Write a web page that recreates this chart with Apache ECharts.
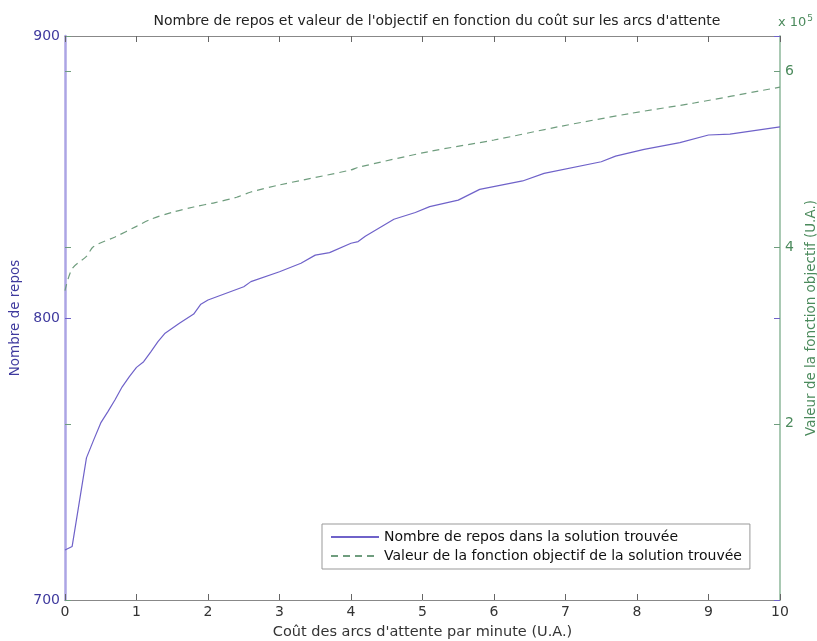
<!DOCTYPE html>
<html><head><meta charset="utf-8">
<script src="https://cdn.jsdelivr.net/npm/echarts@6/dist/echarts.min.js"></script>
<style>html,body{margin:0;padding:0;background:#fff;overflow:hidden}#c{width:817px;height:641px}</style>
</head><body><div id="c"></div>
<script>
var titleText = "Nombre de repos et valeur de l'objectif en fonction du coût sur les arcs d'attente";
var xName = "Coût des arcs d'attente par minute (U.A.)";
var yLeftName = "Nombre de repos";
var yRightName = "Valeur de la fonction objectif (U.A.)";
var legendRepos = "Nombre de repos dans la solution trouvée";
var legendObj = "Valeur de la fonction objectif de la solution trouvée";

var reposX = [0, 0.1, 0.3, 0.4, 0.5, 0.6, 0.7, 0.8, 0.9, 1.0, 1.1, 1.2, 1.3, 1.4, 1.6, 1.8, 1.9, 2.0, 2.5, 2.6, 3.0, 3.3, 3.5, 3.7, 4.0, 4.1, 4.2, 4.6, 4.9, 5.1, 5.5, 5.8, 6.4, 6.7, 7.5, 7.7, 8.1, 8.6, 9.0, 9.3, 10];
var reposY = [717.7, 719, 750.4, 756.7, 762.8, 766.8, 771, 775.6, 779.2, 782.5, 784.5, 788, 791.6, 794.6, 798.1, 801.4, 804.9, 806.4, 811.1, 812.9, 816.4, 819.4, 822.3, 823.2, 826.5, 827.1, 829, 835, 837.4, 839.5, 841.8, 845.6, 848.6, 851.3, 855.4, 857.4, 859.8, 862.2, 864.9, 865.2, 867.8];

var objX = [0, 0.1, 0.3, 0.4, 0.7, 1.0, 1.2, 1.5, 1.8, 2.1, 2.4, 2.6, 3.0, 4.0, 4.1, 5.1, 6.0, 6.9, 7.9, 8.8, 10];
var objY = [351000, 376000, 390000, 401000, 412000, 424000, 432000, 440000, 446000, 451000, 457000, 463000, 471000, 488000, 491000, 509000, 522000, 537000, 552000, 564000, 582000];

function pairs(xs, ys){ return xs.map(function(x,i){ return [x, ys[i]]; }); }

var purple = '#6f62c9', purpleLab = '#3f3a9e', purpleSpine = '#aca5e4';
var green = '#6f9d7e', greenLab = '#4b8a5c', greenSpine = '#a9c9b3';
var font = 'DejaVu Sans, Liberation Sans, Arial, sans-serif';

var chart = echarts.init(document.getElementById('c'));
chart.setOption({
  animation: false,
  backgroundColor: '#fff',
  title: { text: titleText, left: 432, top: 9, textAlign: 'center',
    textStyle: { fontFamily: font, fontSize: 14, fontWeight: 'normal', color: '#222' } },
  graphic: [{ type: 'text', left: 778, top: 14,
    style: { text: '{a|x 10}{b|5}', rich: { a: { fontFamily: font, fontSize: 13, fill: greenLab }, b: { fontFamily: font, fontSize: 9, fill: greenLab, verticalAlign: 'top', padding: [0,0,8,1] } } } }],
  grid: { left: 65, right: 37, top: 36, bottom: 41, outerBoundsMode: 'none', containLabel: false },
  legend: {
    left: 322, top: 524, orient: 'vertical', itemWidth: 48, itemHeight: 10, itemGap: 5,
    padding: [6, 8, 6, 8], borderColor: '#999', borderWidth: 1, backgroundColor: '#fff',
    textStyle: { fontFamily: font, fontSize: 14, color: '#111' },
    itemStyle: { opacity: 0 },
    data: [legendRepos, legendObj]
  },
  xAxis: [{
    type: 'value', min: 0, max: 10, interval: 1, position: 'bottom',
    name: xName, nameLocation: 'middle', nameGap: 25,
    nameTextStyle: { fontFamily: font, fontSize: 14.5, color: '#333' },
    axisLine: { onZero: false, lineStyle: { color: '#888', width: 1 } },
    axisTick: { inside: true, length: 6, lineStyle: { color: '#666' } },
    axisLabel: { fontFamily: font, fontSize: 14, color: '#333', margin: 5 },
    splitLine: { show: false }
  }, {
    type: 'value', min: 0, max: 10, interval: 1, position: 'top',
    axisLine: { onZero: false, lineStyle: { color: '#888', width: 1 } },
    axisTick: { inside: true, length: 6, lineStyle: { color: '#666' } },
    axisLabel: { show: false }, splitLine: { show: false }
  }],
  yAxis: [{
    type: 'value', min: 700, max: 900, interval: 100, position: 'left',
    name: yLeftName, nameLocation: 'middle', nameGap: 33, nameRotate: 90,
    nameTextStyle: { fontFamily: font, fontSize: 13.5, color: purpleLab },
    axisLine: { show: true, onZero: false, lineStyle: { color: purpleSpine, width: 2.5 } },
    axisTick: { inside: true, length: 6, lineStyle: { color: purple } },
    axisLabel: { fontFamily: font, fontSize: 14, color: purpleLab, margin: 5 },
    splitLine: { show: false }
  }, {
    type: 'value', min: 0, max: 640000, interval: 200000, position: 'right',
    name: yRightName, nameLocation: 'middle', nameGap: 17, nameRotate: 90,
    nameTextStyle: { fontFamily: font, fontSize: 13.5, color: greenLab },
    axisLine: { show: true, onZero: false, lineStyle: { color: greenSpine, width: 2 } },
    axisTick: { inside: true, length: 6, lineStyle: { color: green } },
    axisLabel: { fontFamily: font, fontSize: 14, color: greenLab, margin: 5,
      formatter: function(v){ return (v > 0 && v % 200000 === 0) ? String(v/100000) : ''; } },
    splitLine: { show: false }
  }, {
    type: 'value', min: 700, max: 900, interval: 100, position: 'right',
    axisLine: { show: false, onZero: false },
    axisTick: { inside: true, length: 6, lineStyle: { color: purple } },
    axisLabel: { show: false }, splitLine: { show: false }
  }, {
    type: 'value', min: 0, max: 640000, interval: 200000, position: 'left',
    axisLine: { show: false, onZero: false },
    axisTick: { inside: true, length: 6, lineStyle: { color: green } },
    axisLabel: { show: false }, splitLine: { show: false }
  }],
  series: [{
    name: legendRepos, type: 'line', xAxisIndex: 0, yAxisIndex: 0, symbol: 'none',
    data: pairs(reposX, reposY),
    itemStyle: { color: purple },
    lineStyle: { color: purple, width: 1.2 }
  }, {
    name: legendObj, type: 'line', xAxisIndex: 0, yAxisIndex: 1, symbol: 'none', smooth: 0.3,
    data: pairs(objX, objY),
    itemStyle: { color: green },
    lineStyle: { color: green, width: 1.2, type: [7, 5] }
  }]
});
</script></body></html>
